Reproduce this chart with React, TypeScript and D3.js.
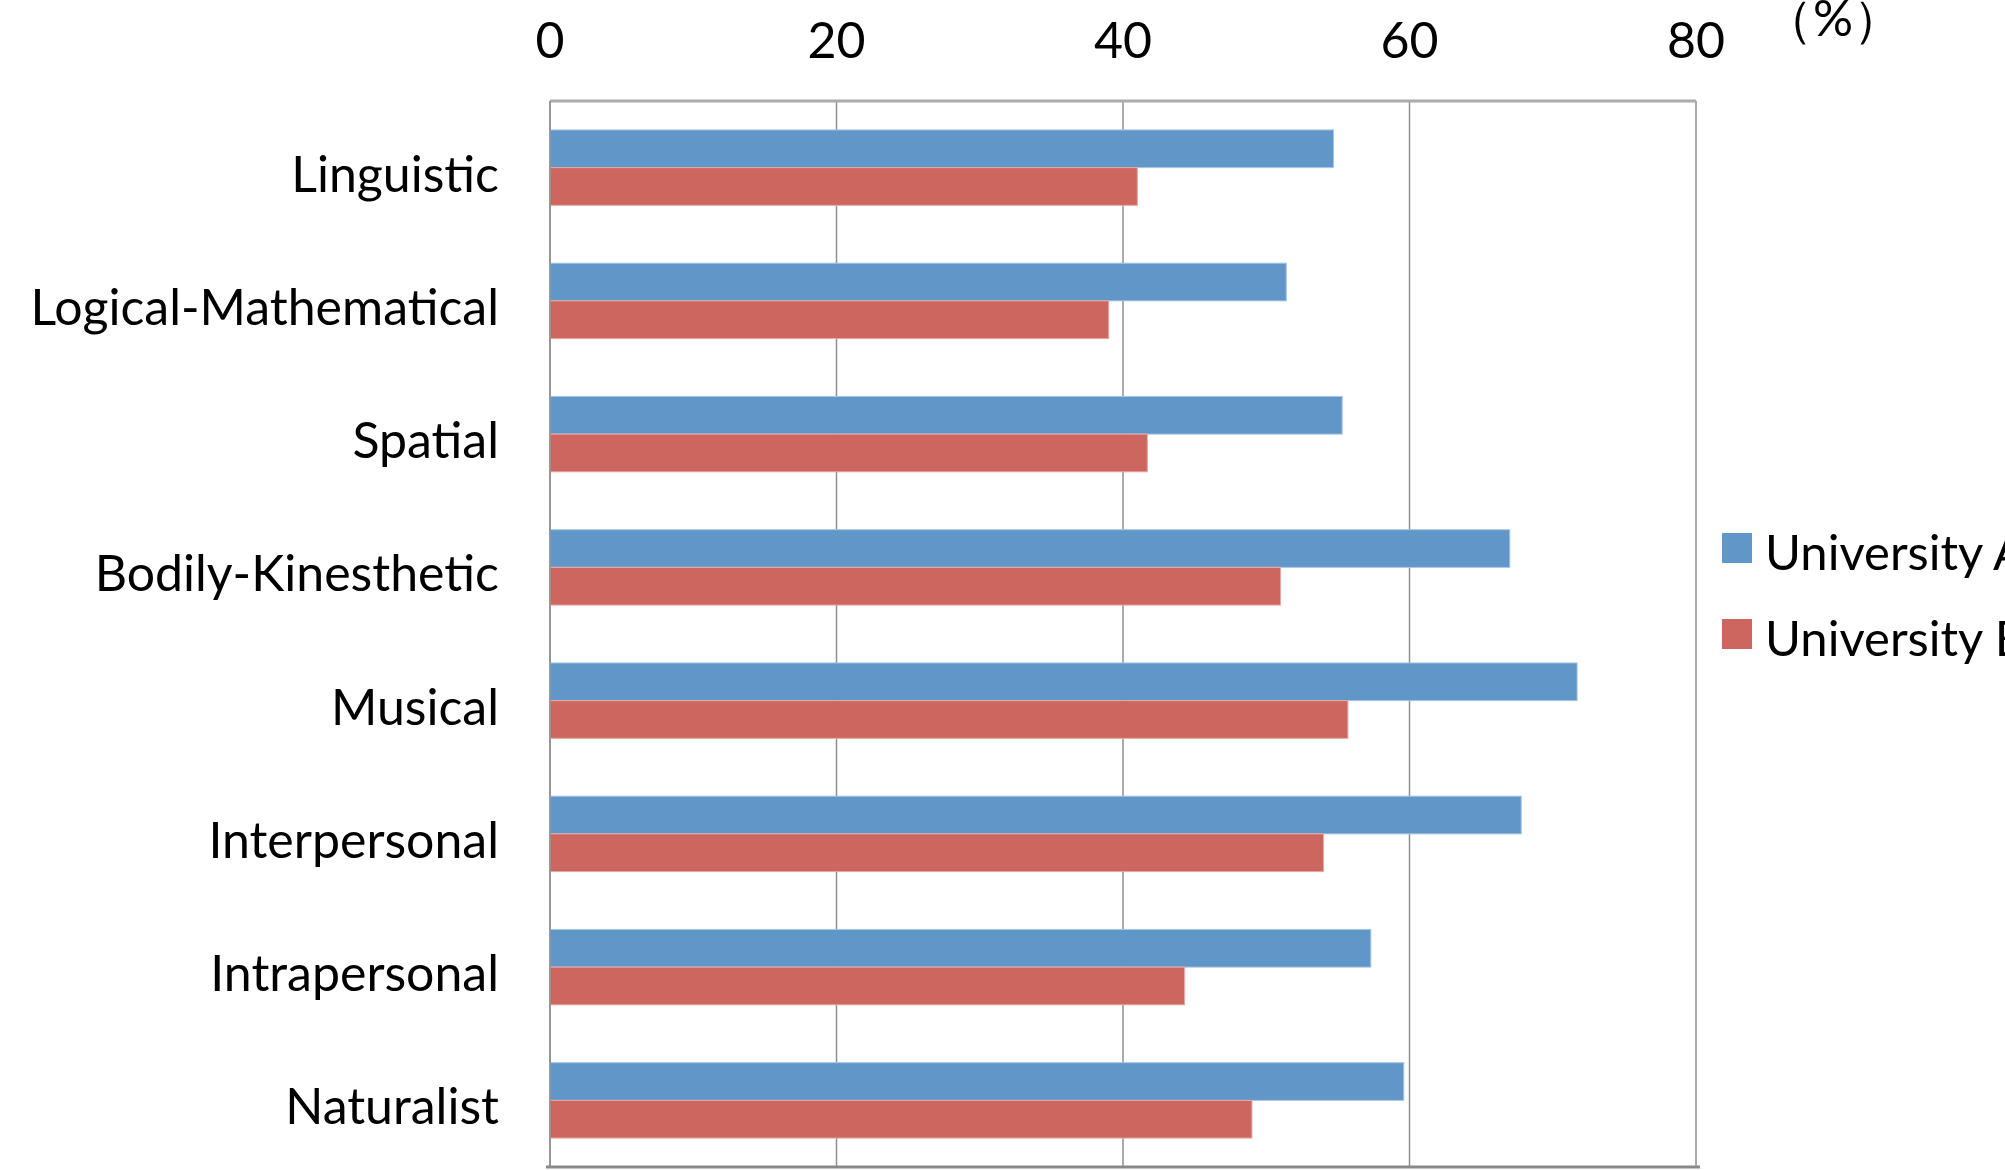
import React from "react";
import * as d3 from "d3";

const categories = [
  "Linguistic",
  "Logical-Mathematical",
  "Spatial",
  "Bodily-Kinesthetic",
  "Musical",
  "Interpersonal",
  "Intrapersonal",
  "Naturalist",
];
const universityA = [54.7, 51.4, 55.3, 67.0, 71.7, 67.8, 57.3, 59.6];
const universityB = [41.0, 39.0, 41.7, 51.0, 55.7, 54.0, 44.3, 49.0];
const seriesNames = ["University A", "University B"];
const seriesColors = ["#6196C9", "#CD665F"];
const seriesStroke = ["#A9C6E6", "#E6A9A4"];
const xTicks = [0, 20, 40, 60, 80];
const unitLabel = "（%）";

const W = 2005;
const H = 1170;
const FONT = "Lato, 'Open Sans', sans-serif";

export default function App() {
  const x = d3.scaleLinear().domain([0, 80]).range([550, 1696]);
  const y = d3.scaleBand<string>().domain(categories).range([101, 1167]);
  const inner = d3
    .scaleBand<string>()
    .domain(seriesNames)
    .range([0, y.bandwidth()])
    .paddingInner(0)
    .paddingOuter(0.767);
  const series = [universityA, universityB];

  return (
    <svg
      width={W}
      height={H}
      style={{ position: "absolute", left: 0, top: 0, background: "#fff" }}
      fontFamily={FONT}
    >
      <rect x={0} y={0} width={W} height={H} fill="#fff" />
      {/* gridlines */}
      {xTicks.map((t) => (
        <line
          key={"g" + t}
          x1={x(t)}
          x2={x(t)}
          y1={y.range()[0]}
          y2={y.range()[1]}
          stroke="#8f8f8f"
          strokeWidth={1.5}
        />
      ))}
      {/* top border */}
      <line
        x1={x(0)}
        x2={x(80)}
        y1={y.range()[0]}
        y2={y.range()[0]}
        stroke="#ababab"
        strokeWidth={3}
      />
      {/* bars */}
      {categories.map((c, i) =>
        series.map((vals, s) => (
          <rect
            key={c + s}
            x={x(0)}
            y={(y(c) as number) + (inner(seriesNames[s]) as number)}
            width={x(vals[i]) - x(0)}
            height={inner.bandwidth()}
            fill={seriesColors[s]}
            stroke={seriesStroke[s]}
            strokeWidth={1}
          />
        ))
      )}
      {/* left axis */}
      <line
        x1={x(0)}
        x2={x(0)}
        y1={y.range()[0]}
        y2={y.range()[1]}
        stroke="#8f8f8f"
        strokeWidth={1.5}
      />
      {/* bottom axis */}
      <line
        x1={x(0) - 4}
        x2={x(80) + 4}
        y1={y.range()[1]}
        y2={y.range()[1]}
        stroke="#888"
        strokeWidth={3}
      />
      {/* tick labels */}
      {xTicks.map((t) => (
        <text
          key={"t" + t}
          x={x(t)}
          y={58}
          textAnchor="middle"
          fontSize={50}
          fill="#000"
        >
          {t}
        </text>
      ))}
      <text x={1833} y={36} textAnchor="middle" fontSize={50} fill="#000">
        {unitLabel}
      </text>
      {/* category labels */}
      {categories.map((c) => (
        <text
          key={"c" + c}
          x={499}
          y={(y(c) as number) + y.bandwidth() / 2 + 24}
          textAnchor="end"
          fontSize={50}
          fill="#000"
        >
          {c}
        </text>
      ))}
      {/* legend */}
      {seriesNames.map((n, s) => (
        <g key={"l" + n} transform={`translate(1722, ${533 + s * 86})`}>
          <rect width={30} height={30} fill={seriesColors[s]} />
          <text x={43} y={37} fontSize={49} fill="#000">
            {n}
          </text>
        </g>
      ))}
    </svg>
  );
}
